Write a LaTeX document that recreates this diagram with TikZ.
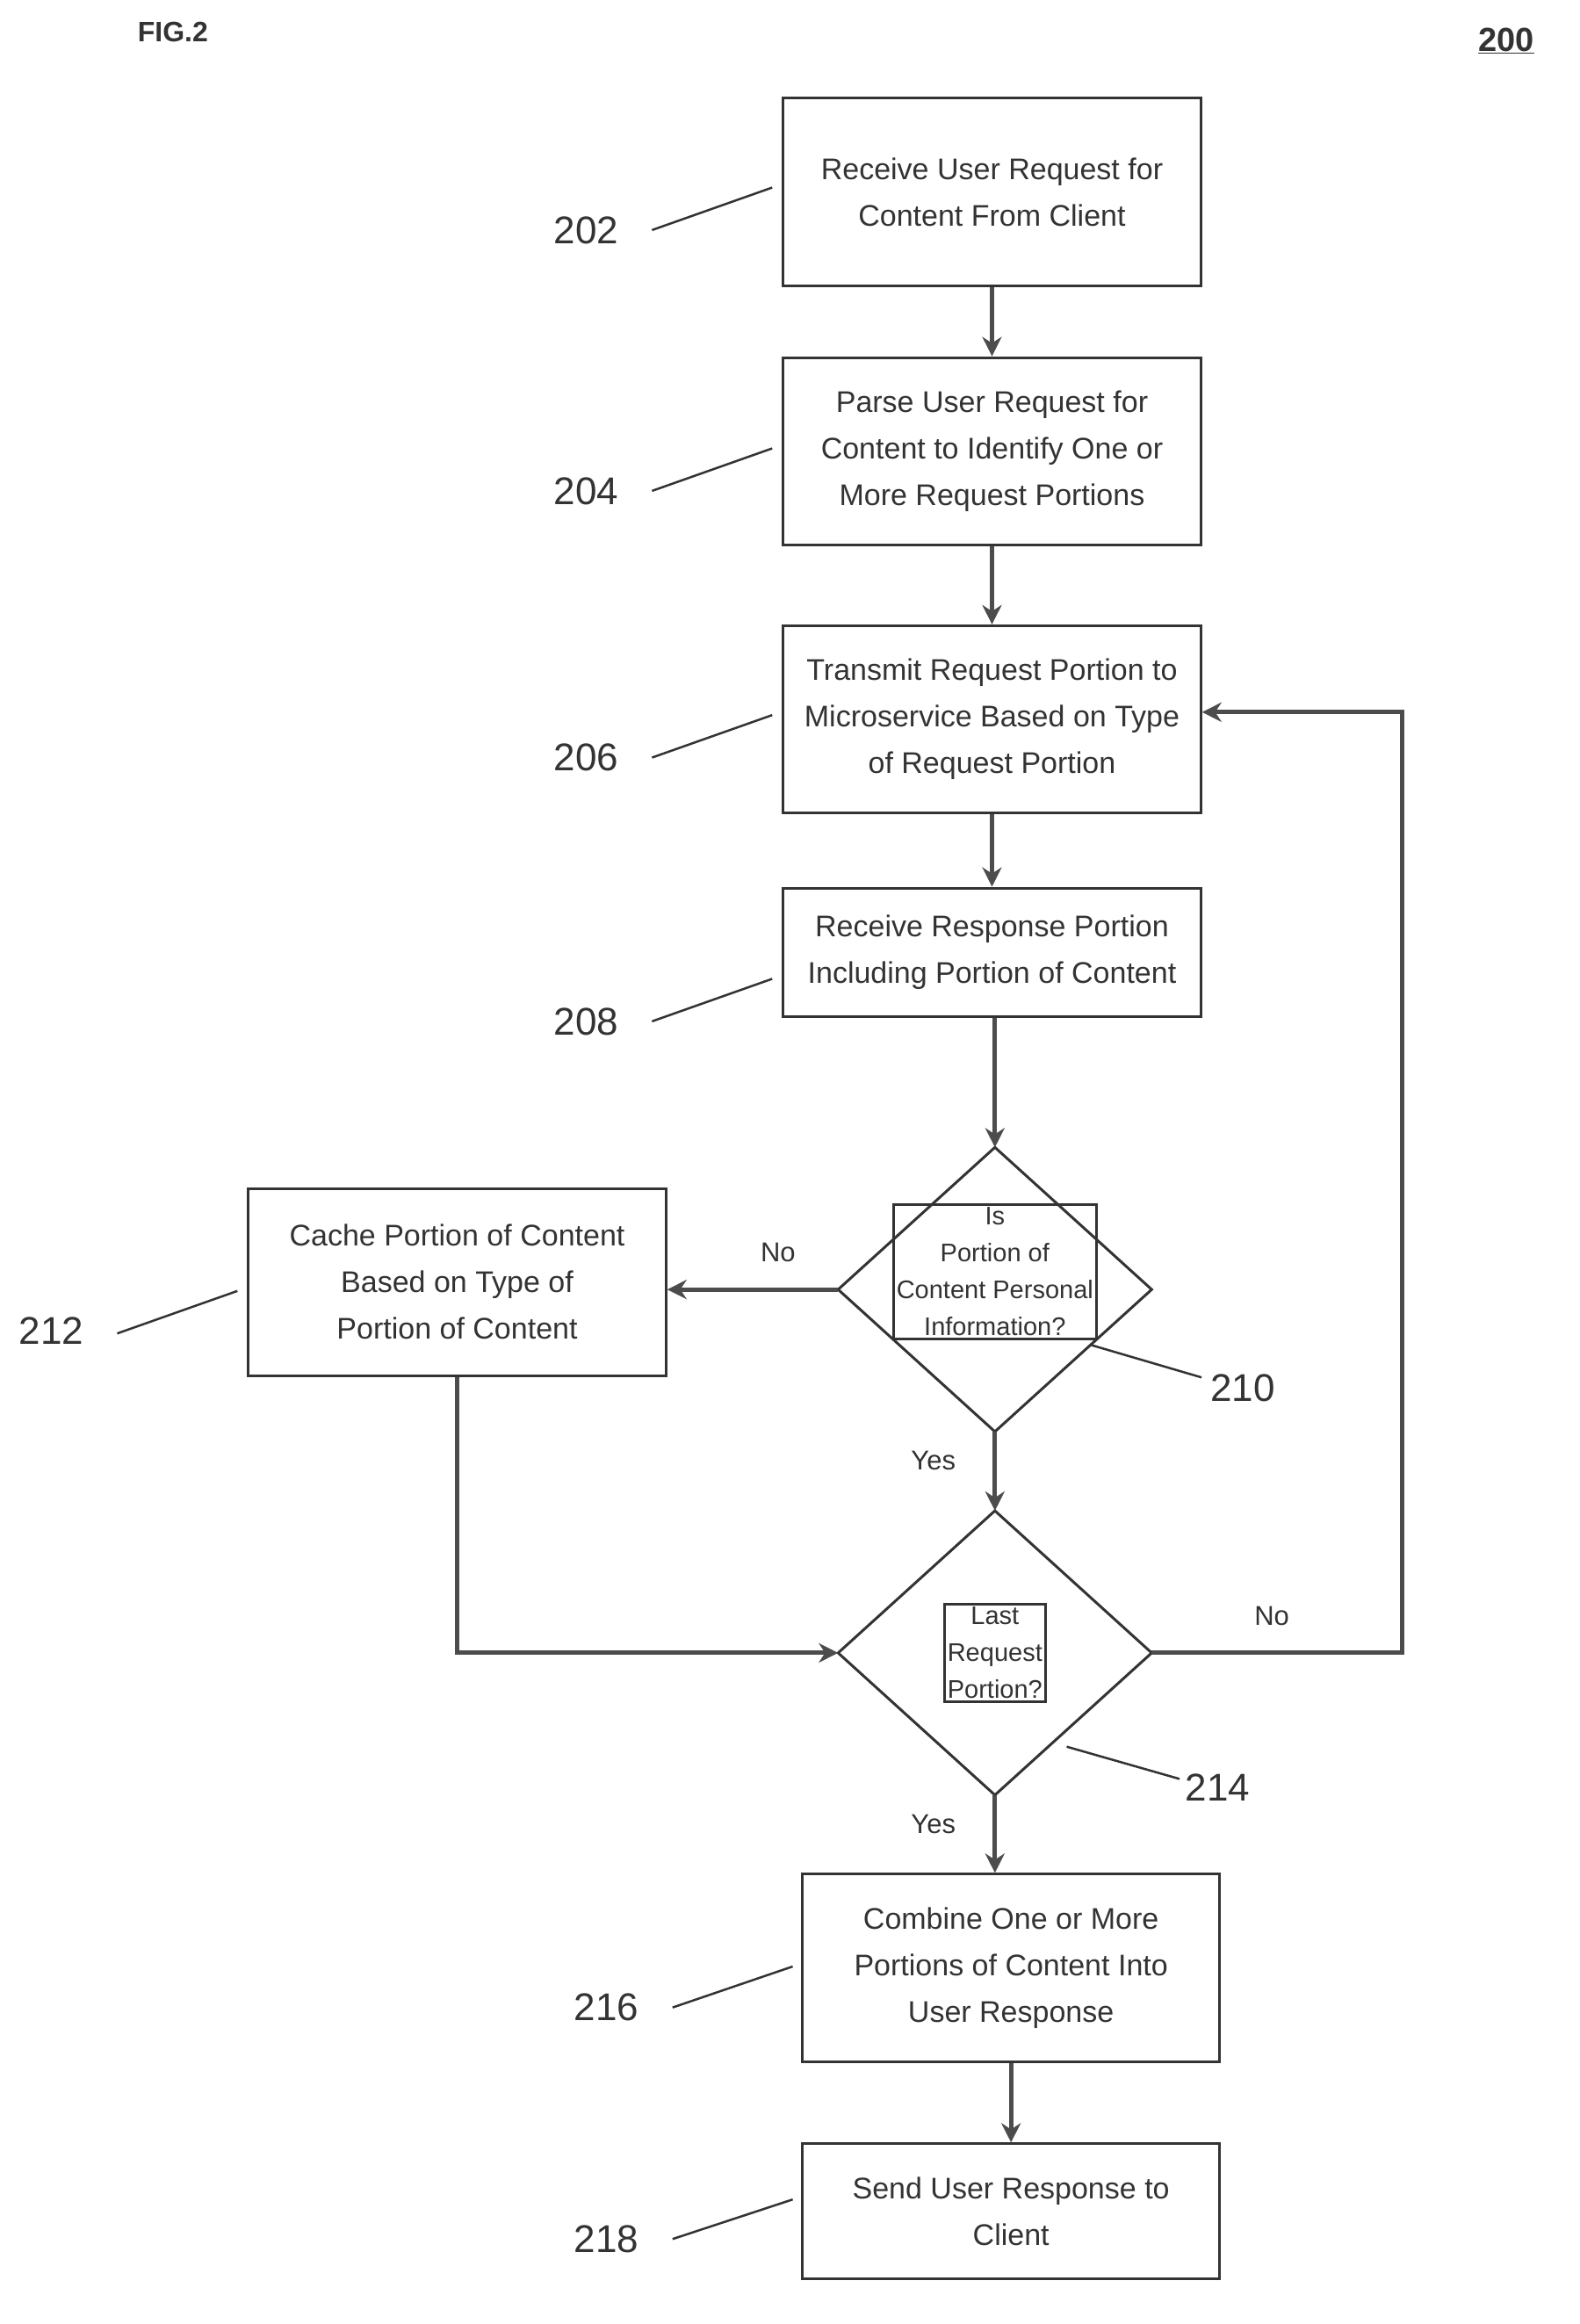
\documentclass[tikz,border=0pt]{standalone}
\usepackage{fontspec}
\setmainfont{Liberation Sans}
\usetikzlibrary{arrows.meta}
\begin{document}
\begin{tikzpicture}[x=1.668pt,y=-1.668pt,
 box/.style={draw=black!80,line width=3pt,minimum width=285*1.668pt,align=center,font=\fontsize{34}{53}\selectfont,text=black!80,inner sep=0},
 dia/.style={draw=black!80,line width=3pt,align=center,font=\fontsize{29}{42}\selectfont,text=black!80},
 arr/.style={draw=black!70,line width=5pt,-{Stealth[length=22pt,width=22pt]}},
 lead/.style={draw=black!80,line width=2.5pt},
 lab/.style={font=\fontsize{44}{44}\selectfont,text=black!80},
 yn/.style={font=\fontsize{31}{31}\selectfont,text=black!80}]
\useasboundingbox[fill=white] (0,0) rectangle (1078,1586);
\node[font=\fontsize{32}{32}\selectfont\bfseries,text=black!80] (fig) at (118,22) {FIG.2};
\node[font=\fontsize{38}{38}\selectfont\bfseries,text=black!80] (n200) at (1028,28) {\underline{200}};
\node[box,minimum height=128*1.668pt] (b202) at (677,131) {Receive User Request for\\Content From Client};
\node[box,minimum height=128*1.668pt] (b204) at (677,308) {Parse User Request for\\Content to Identify One or\\More Request Portions};
\node[box,minimum height=128*1.668pt] (b206) at (677,491) {Transmit Request Portion to\\Microservice Based on Type\\of Request Portion};
\node[box,minimum height=88*1.668pt] (b208) at (677,650) {Receive Response Portion\\Including Portion of Content};
\node[box,minimum height=128*1.668pt] (b212) at (312,875) {Cache Portion of Content\\Based on Type of\\Portion of Content};
\node[box,minimum height=128*1.668pt] (b216) at (690,1343) {Combine One or More\\Portions of Content Into\\User Response};
\node[box,minimum height=92*1.668pt] (b218) at (690,1509) {Send User Response to\\Client};
\coordinate (d210t) at (679,783); \coordinate (d210b) at (679,977);
\coordinate (d210l) at (572,880); \coordinate (d210r) at (786,880);
\draw[draw=black!80,line width=3pt] (d210t)--(d210r)--(d210b)--(d210l)--cycle;
\node[dia] (d210) at (679,868) {Is\\Portion of\\Content Personal\\Information?};
\coordinate (d214t) at (679,1031); \coordinate (d214b) at (679,1225);
\coordinate (d214l) at (572,1128); \coordinate (d214r) at (786,1128);
\draw[draw=black!80,line width=3pt] (d214t)--(d214r)--(d214b)--(d214l)--cycle;
\node[dia] (d214) at (679,1128) {Last\\Request\\Portion?};
\draw[arr] (b202)--(b204);
\draw[arr] (b204)--(b206);
\draw[arr] (b206)--(b208);
\draw[arr] (b208.south -| d210t)--(d210t);
\draw[arr] (d210l)--(b212.east |- d210l);
\draw[arr] (d210b)--(d214t);
\draw[arr] (b212.south)--(312,1128)--(d214l);
\coordinate (loop1) at (957,1128); \coordinate (loop2) at (957,486);
\draw[arr] (d214r)--(loop1)--(loop2)--(b206.east |- loop2);
\draw[arr] (d214b)--(b216.north -| d214b);
\draw[arr] (b216)--(b218);
\node[yn] (no1) at (531,855) {No};
\node[yn] (yes1) at (637,997) {Yes};
\node[yn] (no2) at (868,1103) {No};
\node[yn] (yes2) at (637,1245) {Yes};
\node[lab] (l202) at (400,157) {202}; \coordinate (c202) at (527,128); \draw[lead] (445,157)--(c202);
\node[lab] (l204) at (400,335) {204}; \coordinate (c204) at (527,306); \draw[lead] (445,335)--(c204);
\node[lab] (l206) at (400,517) {206}; \coordinate (c206) at (527,488); \draw[lead] (445,517)--(c206);
\node[lab] (l208) at (400,697) {208}; \coordinate (c208) at (527,668); \draw[lead] (445,697)--(c208);
\node[lab] (l212) at (35,908) {212}; \coordinate (c212) at (162,881); \draw[lead] (80,910)--(c212);
\node[lab] (l216) at (414,1370) {216}; \coordinate (c216) at (541,1342); \draw[lead] (459,1370)--(c216);
\node[lab] (l218) at (414,1528) {218}; \coordinate (c218) at (541,1501); \draw[lead] (459,1528)--(c218);
\node[lab] (l210) at (848,947) {210}; \coordinate (c210) at (745,918); \draw[lead] (c210)--(820,940);
\node[lab] (l214) at (831,1220) {214}; \coordinate (c214) at (728,1192); \draw[lead] (c214)--(805,1214);
\end{tikzpicture}
\end{document}
